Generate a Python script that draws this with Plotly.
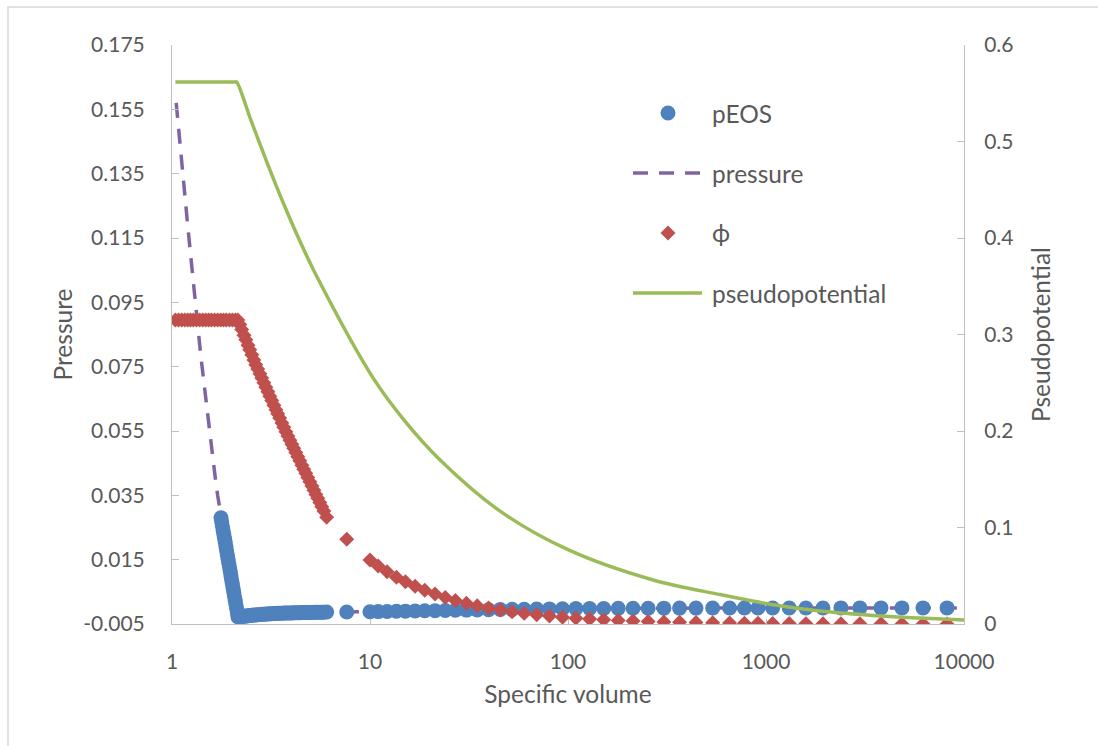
import plotly.graph_objects as go

# ---- axis ticks -------------------------------------------------------
x_tick_vals = [1, 10, 100, 1000, 10000]
x_tick_text = ["1", "10", "100", "1000", "10000"]
p_tick_vals = [-0.005, 0.015, 0.035, 0.055, 0.075, 0.095, 0.115, 0.135, 0.155, 0.175]
p_tick_text = ["-0.005", "0.015", "0.035", "0.055", "0.075", "0.095", "0.115", "0.135", "0.155", "0.175"]
psi_tick_vals = [0, 0.1, 0.2, 0.3, 0.4, 0.5, 0.6]
psi_tick_text = ["0", "0.1", "0.2", "0.3", "0.4", "0.5", "0.6"]

# ---- pEOS samples (specific volume, pressure) -------------------------
v_peos = [1.768, 1.783, 1.797, 1.812, 1.827, 1.842, 1.858, 1.873, 1.888, 1.904,
          1.920, 1.936, 1.952, 1.968, 1.984, 2.001, 2.017, 2.034, 2.051, 2.068,
          2.085, 2.102, 2.119, 2.137, 2.155,
          2.20, 2.25, 2.31, 2.36, 2.42, 2.47, 2.53, 2.59, 2.65, 2.71, 2.78, 2.84,
          2.91, 2.98, 3.05, 3.12, 3.19, 3.27, 3.35, 3.42, 3.50, 3.59, 3.67, 3.76,
          3.85, 3.94, 4.03, 4.12, 4.22, 4.32, 4.42, 4.53, 4.63, 4.74, 4.85, 4.97,
          5.09, 5.21, 5.33, 5.45, 5.58, 5.71, 5.85, 6.04,
          7.63, 10.0, 11.0, 12.2, 13.6, 15.1, 16.9, 18.9, 21.3, 24.0, 27.0, 30.7,
          34.8, 39.7, 45.5, 52.2, 60.1, 69.5, 80.6, 93.8, 109.6, 128.6, 151.5,
          179.3, 213, 254, 305, 366, 443, 538, 655, 778, 911, 1080, 1310, 1590,
          1940, 2390, 2980, 3810, 4860, 6210, 8210]
p_eos = [0.0280, 0.0267, 0.0254, 0.0241, 0.0228, 0.0216, 0.0203, 0.0190, 0.0177, 0.0164,
         0.0151, 0.0139, 0.0126, 0.0113, 0.0100, 0.0087, 0.0075, 0.0062, 0.0049, 0.0036,
         0.0023, 0.0011, -0.0002, -0.0015, -0.0028,
         -0.00285, -0.00275, -0.00262, -0.00255, -0.00245, -0.00238, -0.00230, -0.00224,
         -0.00218, -0.00212, -0.00206, -0.00200, -0.00197, -0.00193, -0.00188, -0.00184,
         -0.00180, -0.00176, -0.00172, -0.00168, -0.00165, -0.00163, -0.00161, -0.00160,
         -0.00158, -0.00156, -0.00155, -0.00153, -0.00151, -0.00149, -0.00147, -0.00146,
         -0.00144, -0.00143, -0.00141, -0.00140, -0.00139, -0.00137, -0.00136, -0.00135,
         -0.00134, -0.00132, -0.00131, -0.00128,
         -0.00125, -0.00120, -0.00115, -0.00110, -0.00105, -0.00100, -0.00095, -0.00090,
         -0.00085, -0.00080, -0.00074, -0.00068, -0.00062, -0.00056, -0.00050, -0.00045,
         -0.00040, -0.00035, -0.00030, -0.00026, -0.00022, -0.00019, -0.00016, -0.00013,
         -0.00011, -0.00009, -0.00007, -0.00006, -0.00005, -0.00004, -0.00003, -0.00003,
         -0.00002, -0.00002, -0.00001, -0.00001, -0.00001, 0.0, 0.0, 0.0, 0.0, 0.0, 0.0]

# ---- pressure curve -------------------------------------------------------
v_pressure = [1.05, 1.10, 1.15, 1.20, 1.25, 1.30, 1.35, 1.40, 1.45, 1.50, 1.55, 1.60,
              1.65, 1.70, 1.768, 1.842, 1.920, 2.001, 2.085, 2.155, 2.30, 2.60, 3.0,
              3.5, 4.5, 6.04, 7.63, 10, 20, 50, 100, 300, 1000, 3000, 10000]
pressure = [0.157, 0.143, 0.131, 0.119, 0.108, 0.097, 0.087, 0.078, 0.070, 0.062, 0.055,
            0.048, 0.041, 0.035, 0.028, 0.0216, 0.0151, 0.0087, 0.0023, -0.0028, -0.0026,
            -0.0022, -0.0019, -0.00165, -0.00146, -0.00128, -0.00125, -0.0012, -0.00088,
            -0.00046, -0.00024, -0.00007, -0.00002, 0.0, 0.0]

# ---- phi samples (secondary axis) -----------------------------------------
v_phi = [1.04, 1.08, 1.12, 1.16, 1.20, 1.24, 1.28, 1.33, 1.38, 1.43, 1.48, 1.53, 1.58,
         1.64, 1.70, 1.76, 1.82, 1.88, 1.95, 2.02, 2.09, 2.15,
         2.20, 2.25, 2.31, 2.36, 2.42, 2.47, 2.53, 2.59, 2.65, 2.71, 2.78, 2.84,
         2.91, 2.98, 3.05, 3.12, 3.19, 3.27, 3.35, 3.42, 3.50, 3.59, 3.67, 3.76,
         3.85, 3.94, 4.03, 4.12, 4.22, 4.32, 4.42, 4.53, 4.63, 4.74, 4.85, 4.97,
         5.09, 5.21, 5.33, 5.45, 5.58, 5.71, 5.85, 6.04,
         7.63, 10.0, 11.0, 12.2, 13.6, 15.1, 16.9, 18.9, 21.3, 24.0, 27.0, 30.7,
         34.8, 39.7, 45.5, 52.2, 60.1, 69.5, 80.6, 93.8, 109.6, 128.6, 151.5,
         179.3, 213, 254, 305, 366, 443, 538, 655, 778, 911, 1080, 1310, 1590,
         1940, 2390, 2980, 3810, 4860, 6210, 8210]
phi = [0.315, 0.315, 0.315, 0.315, 0.315, 0.315, 0.315, 0.315, 0.315, 0.315, 0.315,
       0.315, 0.315, 0.315, 0.315, 0.315, 0.315, 0.315, 0.315, 0.315, 0.315, 0.315,
       0.3103, 0.3053, 0.2993, 0.2946, 0.2888, 0.2842, 0.2789, 0.2737, 0.2686, 0.2643,
       0.2592, 0.2548, 0.2499, 0.2453, 0.2406, 0.2360, 0.2316, 0.2267, 0.2219, 0.2179,
       0.2134, 0.2082, 0.2038, 0.1991, 0.1948, 0.1905, 0.1863, 0.1821, 0.1777, 0.1734,
       0.1691, 0.1646, 0.1604, 0.1562, 0.1518, 0.1473, 0.1430, 0.1387, 0.1343, 0.1302,
       0.1258, 0.1216, 0.1170, 0.1106,
       0.0878, 0.0663, 0.0600, 0.0541, 0.0485, 0.0437, 0.0391, 0.0349, 0.0310, 0.0275,
       0.0244, 0.0215, 0.0190, 0.0166, 0.0145, 0.0126, 0.0110, 0.0095, 0.0082, 0.0070,
       0.0060, 0.0051, 0.0044, 0.0037, 0.0031, 0.0026, 0.0022, 0.0018, 0.0015, 0.0012,
       0.0010, 0.0008, 0.0007, 0.0006, 0.0005, 0.0004, 0.0003, 0.0003, 0.0002, 0.0002,
       0.0001, 0.0001, 0.0001]

# ---- pseudopotential curve (secondary axis) -----------------------------------
v_pseudo = [1.04, 2.08, 2.12, 2.5, 3.01, 3.64, 4.4, 5.38, 10.4, 15, 22.6, 45.4, 100,
            269, 586, 1047, 1875, 3766, 5997, 10000]
pseudopotential = [0.5617, 0.5617, 0.5617, 0.5224, 0.479, 0.4368, 0.3979, 0.3603, 0.2545,
                   0.2103, 0.170, 0.117, 0.077, 0.0456, 0.0305, 0.0205, 0.0134, 0.0084,
                   0.0062, 0.0041]

BLUE = "#4f81bd"
PURPLE = "#8064a2"
RED = "#c0504d"
GREEN = "#9bbb59"
TEXT = "#595959"
AXIS = "#bfbfbf"
FONT = "Lato, 'Open Sans', sans-serif"
DASH = "15px,11px"

fig = go.Figure()

# draw order: pressure under pEOS, secondary-axis series on top
fig.add_trace(go.Scatter(
    x=v_pressure, y=pressure, name="pressure", mode="lines",
    line=dict(color=PURPLE, width=3.5, dash=DASH), yaxis="y"))
fig.add_trace(go.Scatter(
    x=v_peos, y=p_eos, name="pEOS", mode="markers",
    marker=dict(color=BLUE, size=15, symbol="circle", line=dict(width=0)), yaxis="y"))
fig.add_trace(go.Scatter(
    x=v_phi, y=phi, name="ϕ", mode="markers",
    marker=dict(color=RED, size=11.5, symbol="diamond", line=dict(width=0)), yaxis="y2"))
fig.add_trace(go.Scatter(
    x=v_pseudo, y=pseudopotential, name="pseudopotential", mode="lines",
    line=dict(color=GREEN, width=3.5, shape="spline", smoothing=0.9), yaxis="y2"))

W, H = 1098, 746
L, R, T, B = 172, 134, 45, 122
pw, ph = W - L - R, H - T - B


def px(x):
    return (x - L) / pw


def py(y):
    return (H - B - y) / ph


TITLE_SIZE = 24.5
TICK_SIZE = 21

fig.update_layout(
    width=W, height=H,
    margin=dict(l=L, r=R, t=T, b=B, pad=0),
    paper_bgcolor="white", plot_bgcolor="white",
    font=dict(family=FONT, size=TICK_SIZE, color=TEXT),
    showlegend=False,
    xaxis=dict(
        type="log", range=[0, 4],
        tickmode="array", tickvals=x_tick_vals, ticktext=x_tick_text,
        ticks="inside", ticklen=5, tickcolor=AXIS, tickwidth=1,
        showline=True, linecolor=AXIS, linewidth=1,
        showgrid=False, zeroline=False,
        ticklabelstandoff=19,
        tickfont=dict(size=TICK_SIZE, color=TEXT),
        title=dict(text="Specific volume", font=dict(size=TITLE_SIZE, color=TEXT), standoff=13),
    ),
    yaxis=dict(
        range=[-0.005, 0.175],
        tickmode="array", tickvals=p_tick_vals, ticktext=p_tick_text,
        ticks="inside", ticklen=7, tickcolor=AXIS, tickwidth=1,
        showline=True, linecolor=AXIS, linewidth=1,
        showgrid=False, zeroline=False,
        ticklabelstandoff=22,
        tickfont=dict(size=TICK_SIZE, color=TEXT),
        title=dict(text="Pressure", font=dict(size=TITLE_SIZE, color=TEXT), standoff=3),
    ),
    yaxis2=dict(
        range=[0, 0.6], overlaying="y", side="right",
        tickmode="array", tickvals=psi_tick_vals, ticktext=psi_tick_text,
        ticks="inside", ticklen=7, tickcolor=AXIS, tickwidth=1,
        showline=True, linecolor=AXIS, linewidth=1,
        showgrid=False, zeroline=False,
        ticklabelstandoff=15,
        tickfont=dict(size=TICK_SIZE, color=TEXT),
        title=dict(text="Pseudopotential", font=dict(size=TITLE_SIZE, color=TEXT), standoff=20),
    ),
)

# outer chart frame
fig.add_shape(
    type="rect", xref="paper", yref="paper",
    x0=px(8), x1=px(W + 10), y0=py(H + 10), y1=py(7),
    line=dict(color="#d9d9d9", width=1.5), fillcolor="rgba(0,0,0,0)", layer="below",
)

# legend keys drawn inside the plot area
key_x0, key_x1, key_cx, label_x = 633, 702, 668, 710
rows = {"pEOS": 113, "pressure": 173, "ϕ": 233, "pseudopotential": 293}
r = 7.5
fig.add_shape(type="circle", xref="paper", yref="paper",
              x0=px(key_cx - r), x1=px(key_cx + r),
              y0=py(rows["pEOS"] + r), y1=py(rows["pEOS"] - r),
              fillcolor=BLUE, line=dict(width=0))
fig.add_shape(type="line", xref="paper", yref="paper",
              x0=px(key_x0), x1=px(key_x1),
              y0=py(rows["pressure"]), y1=py(rows["pressure"]),
              line=dict(color=PURPLE, width=3.5, dash=DASH))
cy = rows["ϕ"]
fig.add_shape(type="path", xref="paper", yref="paper",
              path=(f"M {px(key_cx - r)} {py(cy)} L {px(key_cx)} {py(cy - r)} "
                    f"L {px(key_cx + r)} {py(cy)} L {px(key_cx)} {py(cy + r)} Z"),
              fillcolor=RED, line=dict(width=0))
fig.add_shape(type="line", xref="paper", yref="paper",
              x0=px(key_x0), x1=px(key_x1),
              y0=py(rows["pseudopotential"]), y1=py(rows["pseudopotential"]),
              line=dict(color=GREEN, width=3.5))
for label, yy in rows.items():
    fig.add_annotation(
        x=px(label_x), y=py(yy), xref="paper", yref="paper",
        text=label, showarrow=False, xanchor="left", yanchor="middle",
        font=dict(family=FONT, size=TITLE_SIZE, color=TEXT),
    )

fig.write_html("out.html")
